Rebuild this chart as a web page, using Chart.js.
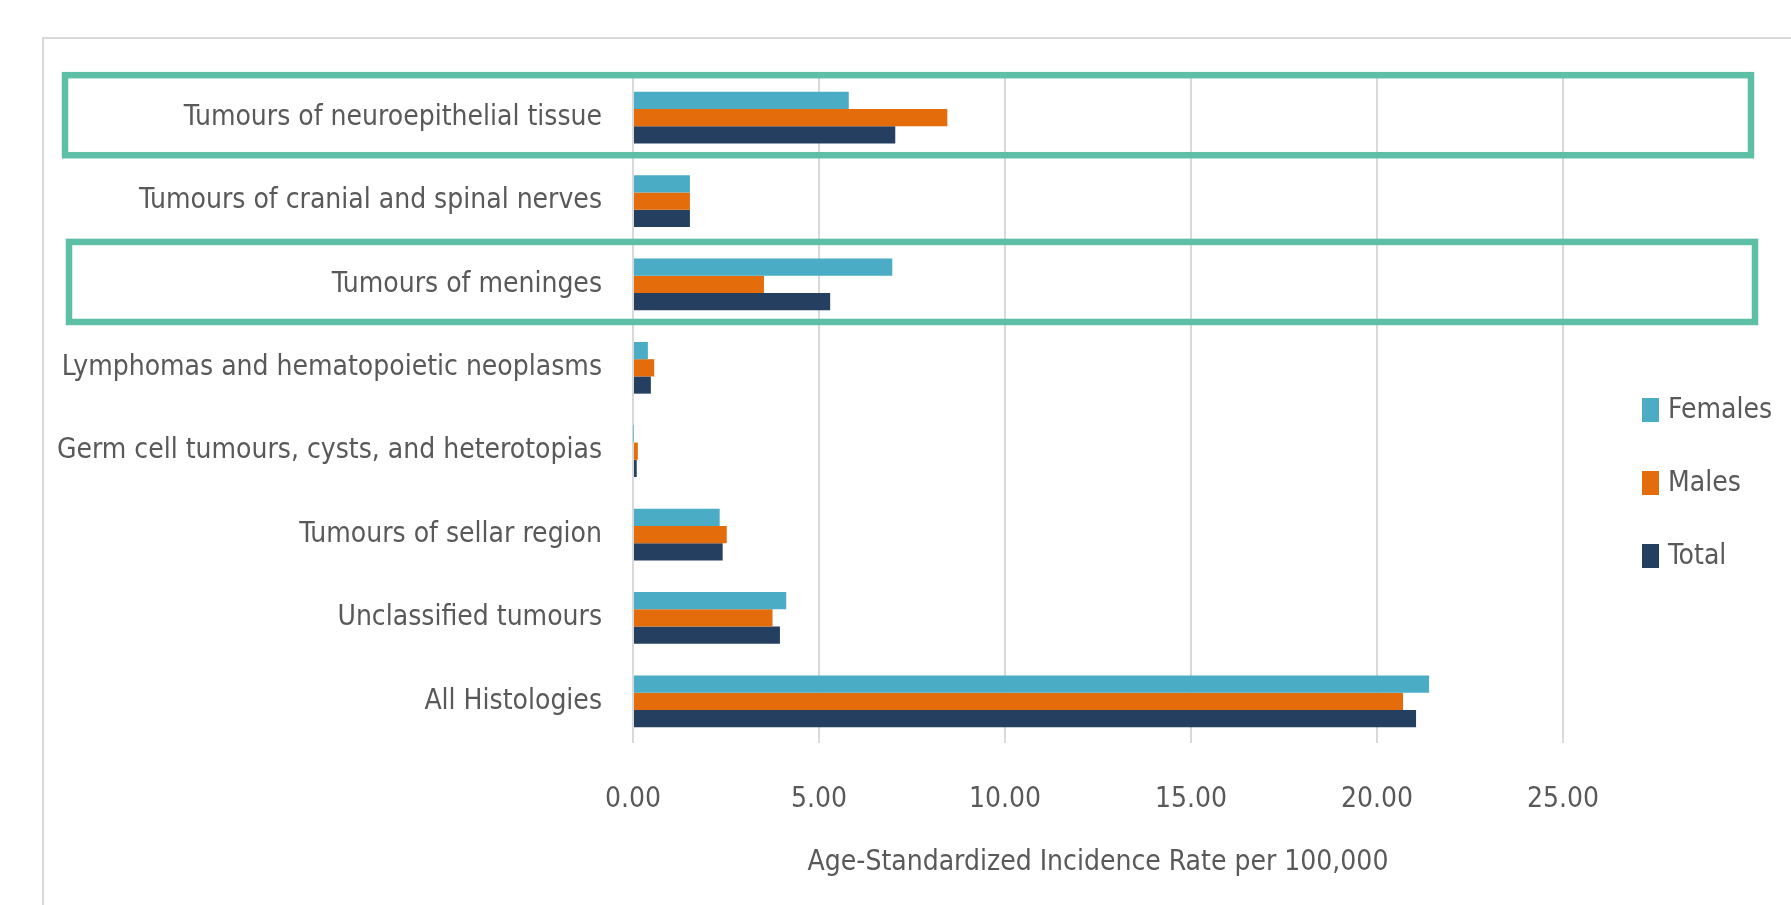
<!DOCTYPE html>
<html>
<head>
<meta charset="utf-8">
<script src="https://cdn.jsdelivr.net/npm/chart.js@4.4.1/dist/chart.umd.min.js"></script>
<style>
  html, body { margin: 0; padding: 0; background: #fff; overflow: hidden; width: 1791px; height: 905px; }
  #frame { position: absolute; left: 42px; top: 37px; width: 1780px; height: 900px; border: 2px solid #d9d9d9; }
  #chart { display: block; }
</style>
</head>
<body>
<div id="frame"><canvas id="chart" width="1780" height="870"></canvas></div>
<script>
'use strict';

// ─── Data ────────────────────────────────────────────────────────────────────
const categories = [
  'Tumours of neuroepithelial tissue',
  'Tumours of cranial and spinal nerves',
  'Tumours of meninges',
  'Lymphomas and hematopoietic neoplasms',
  'Germ cell tumours, cysts, and heterotopias',
  'Tumours of sellar region',
  'Unclassified tumours',
  'All Histologies',
];
const femalesRates = [5.80, 1.53, 6.97, 0.40, 0.01, 2.33, 4.12, 21.40];
const malesRates   = [8.45, 1.53, 3.52, 0.57, 0.13, 2.52, 3.75, 20.70];
const totalRates   = [7.05, 1.53, 5.30, 0.48, 0.10, 2.41, 3.95, 21.05];

const seriesNames  = ['Females', 'Males', 'Total'];
const seriesColors = ['#4bacc6', '#e46c0a', '#243f60'];

const xTickValues = [0, 5, 10, 15, 20, 25];
const xAxisTitle  = 'Age-Standardized Incidence Rate per 100,000';

// Categories outlined with the teal box
const highlighted = ['Tumours of neuroepithelial tissue', 'Tumours of meninges'];

// ─── Style ───────────────────────────────────────────────────────────────────
const FONT_FAMILY = "'DejaVu Sans Condensed', 'Liberation Sans', sans-serif";
const FONT_SIZE   = 28;
const TEXT_COLOR  = '#595959';
const GRID_COLOR  = '#d9d9d9';
const BOX_COLOR   = '#5cbfa6';

// Teal outline round the highlighted categories (hand-drawn look: each box a
// little offset sideways, like in the source figure)
const highlightPlugin = {
  id: 'highlightBoxes',
  afterDraw(chart) {
    const y = chart.scales.y;
    const step = y.getPixelForValue(1) - y.getPixelForValue(0);
    const ctx = chart.ctx;
    ctx.save();
    ctx.strokeStyle = BOX_COLOR;
    ctx.lineWidth = 6.5;
    highlighted.forEach((label, n) => {
      const idx = categories.indexOf(label);
      if (idx < 0) return;
      const c = y.getPixelForValue(idx);
      const top = c - 0.51 * step;
      const bottom = c + 0.45 * step;
      ctx.strokeRect(21 + n * 4, top, 1686, bottom - top);
    });
    ctx.restore();
  },
};

// Vertical legend on the right
const legendPlugin = {
  id: 'sideLegend',
  afterDraw(chart) {
    const {ctx, chartArea} = chart;
    const x = chartArea.right + 79;
    const mid = (chartArea.top + chartArea.bottom) / 2 + 0.5;
    ctx.save();
    ctx.font = `${FONT_SIZE}px ${FONT_FAMILY}`;
    ctx.textBaseline = 'middle';
    ctx.textAlign = 'left';
    chart.data.datasets.forEach((ds, i) => {
      const yy = mid + i * 73;
      ctx.fillStyle = ds.backgroundColor;
      ctx.fillRect(x, yy - 12, 17, 24);
      ctx.fillStyle = TEXT_COLOR;
      ctx.fillText(ds.label, x + 26, yy + 1);
    });
    ctx.restore();
  },
};

const seriesValues = [femalesRates, malesRates, totalRates];

new Chart(document.getElementById('chart').getContext('2d'), {
  type: 'bar',
  data: {
    labels: categories,
    datasets: seriesNames.map((name, i) => ({
      label: name,
      data: seriesValues[i],
      backgroundColor: seriesColors[i],
      borderWidth: 0,
      barPercentage: 1,
      categoryPercentage: 0.62,
    })),
  },
  options: {
    indexAxis: 'y',
    responsive: false,
    animation: false,
    devicePixelRatio: 1,
    layout: { padding: { top: 37, right: 261, bottom: 29, left: 0 } },
    plugins: {
      legend:  { display: false },
      tooltip: { enabled: false },
    },
    scales: {
      x: {
        min: 0,
        max: 25,
        afterBuildTicks: (scale) => { scale.ticks = xTickValues.map(v => ({ value: v })); },
        grid:   { color: GRID_COLOR, lineWidth: 2, drawTicks: false },
        border: { display: false },
        ticks:  {
          color: TEXT_COLOR,
          padding: 40,
          font: { family: FONT_FAMILY, size: FONT_SIZE },
          maxRotation: 0,
          callback: (v) => Number(v).toFixed(2),
        },
        title: {
          display: true,
          text: xAxisTitle,
          color: TEXT_COLOR,
          font: { family: FONT_FAMILY, size: FONT_SIZE },
          padding: { top: 0, bottom: 0 },
        },
        afterFit: (scale) => {
          scale.height = 137;
          scale.paddingLeft = 0;
          scale.paddingRight = 0;
        },
      },
      y: {
        grid:   { display: false, drawTicks: false },
        border: { display: false },
        ticks:  {
          color: TEXT_COLOR,
          padding: 31,
          autoSkip: false,
          font: { family: FONT_FAMILY, size: FONT_SIZE },
        },
        afterFit: (scale) => {
          scale.width = 589;
          scale.paddingTop = 0;
          scale.paddingBottom = 0;
        },
      },
    },
  },
  plugins: [highlightPlugin, legendPlugin],
});
</script>
</body>
</html>
